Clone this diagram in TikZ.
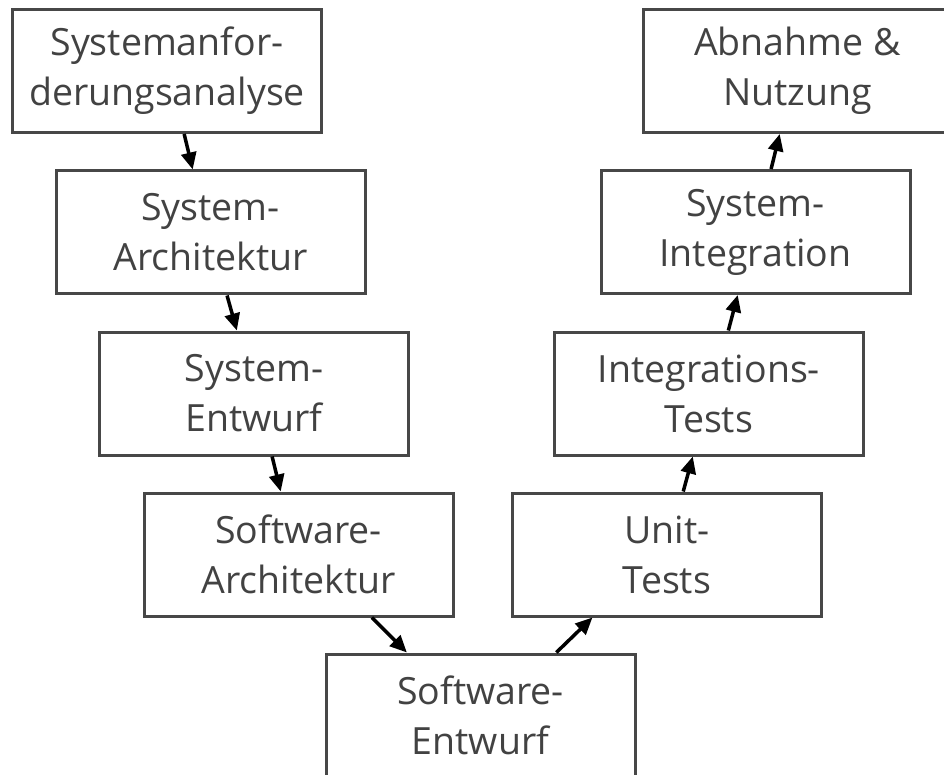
\documentclass[tikz,border=0pt]{standalone}
\usepackage{fontspec}
\setmainfont{Open Sans}
\usetikzlibrary{calc,arrows.meta}
\definecolor{boxline}{HTML}{474747}
\definecolor{boxtext}{HTML}{424242}
\tikzset{
  phase/.style={draw=boxline, line width=3pt, minimum width=309pt, minimum height=123pt,
    inner sep=0pt, align=center, text=boxtext,
    font=\fontsize{37.5}{50}\selectfont},
  flow/.style={line width=3.5pt, black, -{Triangle[length=17pt,width=15pt]}},
}
\begin{document}
\begin{tikzpicture}[x=1pt,y=-1pt]
\useasboundingbox (0,0) rectangle (944,775);
% left branch: specification phases
\node[phase] (b1) at (167,71)    {Systemanfor-\\derungsanalyse};
\node[phase] (b2) at (210.5,232.5) {System-\\Architektur};
\node[phase] (b3) at (254,393.5) {System-\\Entwurf};
\node[phase] (b4) at (298.5,554.5) {Software-\\Architektur};
% bottom of the V
\node[phase] (b5) at (480.5,715.5) {Software-\\Entwurf};
% right branch: test and integration phases
\node[phase] (b6) at (667,554.5) {Unit-\\Tests};
\node[phase] (b7) at (709,393.5) {Integrations-\\Tests};
\node[phase] (b8) at (755.5,232) {System-\\Integration};
\node[phase] (b9) at (797.5,71)  {Abnahme \&\\Nutzung};
% connectors
\draw[flow] ($(b1.south west)!0.555!(b1.south east)$) -- ($(b2.north west)!0.443!(b2.north east)$);
\draw[flow] ($(b2.south west)!0.553!(b2.south east)$) -- ($(b3.north west)!0.445!(b3.north east)$);
\draw[flow] ($(b3.south west)!0.558!(b3.south east)$) -- ($(b4.north west)!0.443!(b4.north east)$);
\draw[flow] ($(b4.south west)!0.735!(b4.south east)$) -- ($(b5.north west)!0.264!(b5.north east)$);
\draw[flow] ($(b5.north west)!0.743!(b5.north east)$) -- ($(b6.south west)!0.261!(b6.south east)$);
\draw[flow] ($(b6.north west)!0.552!(b6.north east)$) -- ($(b7.south west)!0.448!(b7.south east)$);
\draw[flow] ($(b7.north west)!0.562!(b7.north east)$) -- ($(b8.south west)!0.443!(b8.south east)$);
\draw[flow] ($(b8.north west)!0.550!(b8.north east)$) -- ($(b9.south west)!0.443!(b9.south east)$);
\end{tikzpicture}
\end{document}
